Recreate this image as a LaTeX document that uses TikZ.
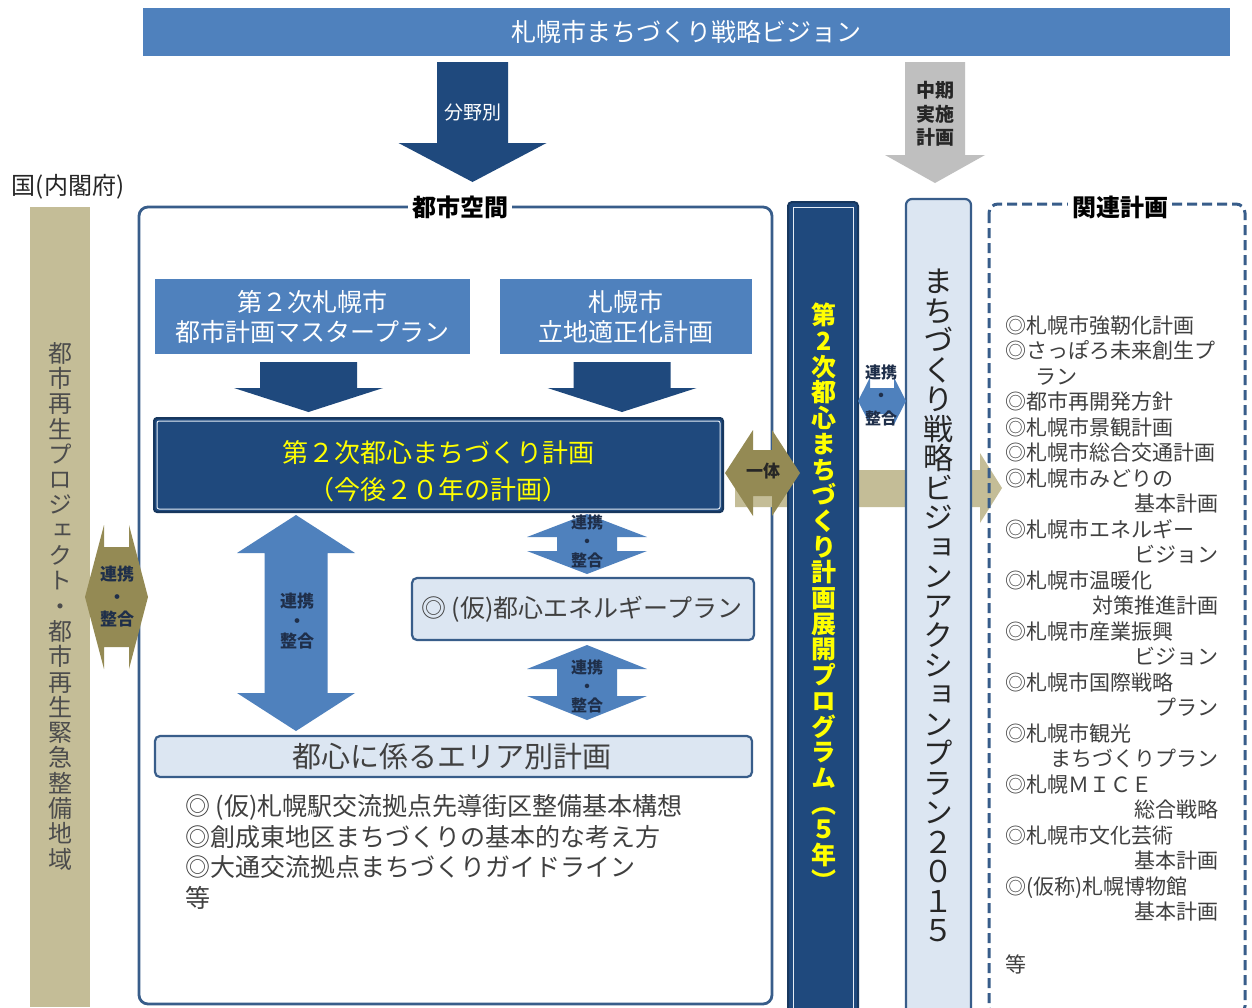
\documentclass[tikz,border=0pt]{standalone}
\usepackage{fontspec}
\setmainfont{Noto Sans CJK JP}
\newfontfamily\jpv[RawFeature=+vert]{Noto Sans CJK JP}
\definecolor{cmid}{HTML}{4F81BD}
\definecolor{cdark}{HTML}{1F497D}
\definecolor{cdarkline}{HTML}{17375E}
\definecolor{clight}{HTML}{DCE6F2}
\definecolor{cborder}{HTML}{385D8A}
\definecolor{ctan}{HTML}{C4BD97}
\definecolor{colive}{HTML}{948A54}
\definecolor{cgray}{HTML}{BFBFBF}
\definecolor{cyel}{HTML}{FFFF00}
\definecolor{ctext}{HTML}{404040}
\definecolor{clabel}{HTML}{1F2F4A}
\makeatletter
\newcommand\tate[2]{\vbox{\offinterlineskip\@tfor\tate@c:=#2\do{\setbox0\hbox to 1em{\hss\tate@c\hss}\ht0=.88em\dp0=.12em\box0\vskip\dimexpr#1-1em\relax}\unskip}}
\makeatother
\newcommand\fs[2]{\fontsize{#1}{#2}\selectfont}
\newcommand\rr{\hskip 0pt plus 1filll\relax}
% vertical double arrow: color, xc, ytop, ybot, half head, half shaft, head length
\newcommand\vdarr[7]{\fill[#1] (#2,#3) -- ({#2+#5},{#3+#7}) -- ({#2+#6},{#3+#7}) -- ({#2+#6},{#4-#7}) -- ({#2+#5},{#4-#7}) -- (#2,#4) -- ({#2-#5},{#4-#7}) -- ({#2-#6},{#4-#7}) -- ({#2-#6},{#3+#7}) -- ({#2-#5},{#3+#7}) -- cycle;}
% horizontal double arrow: color, yc, xl, xr, half head, half shaft, head length
\newcommand\hdarr[7]{\fill[#1] (#3,#2) -- ({#3+#7},{#2-#5}) -- ({#3+#7},{#2-#6}) -- ({#4-#7},{#2-#6}) -- ({#4-#7},{#2-#5}) -- (#4,#2) -- ({#4-#7},{#2+#5}) -- ({#4-#7},{#2+#6}) -- ({#3+#7},{#2+#6}) -- ({#3+#7},{#2+#5}) -- cycle;}
% down arrow: color, xc, ytop, ytip, half head, half shaft, head length
\newcommand\darr[7]{\fill[#1] ({#2-#6},#3) -- ({#2+#6},#3) -- ({#2+#6},{#4-#7}) -- ({#2+#5},{#4-#7}) -- (#2,#4) -- ({#2-#5},{#4-#7}) -- ({#2-#6},{#4-#7}) -- cycle;}
\tikzset{
  midbox/.style={fill=cmid, text=white, inner sep=0pt, outer sep=0pt, align=center},
  lightbox/.style={fill=clight, draw=cborder, line width=2.2pt, rounded corners=5pt, inner sep=0pt, outer sep=0pt},
  lab/.style={text=clabel, inner sep=0pt, align=center},
  ttl/.style={font=\bfseries\fs{24}{26}, fill=white, inner sep=4pt, text=black},
}
\begin{document}
\begin{tikzpicture}[x=1pt,y=-1pt]
\useasboundingbox (0,0) rectangle (1252,1007);
\fill[white] (0,0) rectangle (1252,1007);

% top banner
\node[midbox, minimum width=1087pt, minimum height=48pt, font=\fs{25}{28}] (banner) at (686.5,32) {札幌市まちづくり戦略ビジョン};

% arrows from banner
\darr{cdark}{472.5}{62}{182}{74}{35.5}{39}
\node[text=white, font=\fs{19}{22}, inner sep=0pt] (bunya) at (472.5,112) {分野別};
\darr{cgray}{935}{62}{183}{50}{30}{28}
\node[text=black!85, font=\bfseries\fs{19}{23.5}, align=center, inner sep=0pt] (chuki) at (935,114) {中期\\実施\\計画};

% left national bar
\node[font=\fs{24}{26}, text=black!85, inner sep=0pt] (kuni) at (68,187) {国(内閣府)};
\fill[ctan] (30,207) rectangle (90,1007);
\node[font=\jpv\fs{24}{26}, text=black!70, inner sep=0pt] (toshisaisei) at (60,606) {\tate{25.3pt}{都市再生プロジェクト・都市再生緊急整備地域}};

% main box
\draw[cborder, line width=2.8pt, rounded corners=9pt] (139,207) rectangle (772,1004);
\node[ttl] (toshikukan) at (460,207) {都市空間};

% left link arrow
\hdarr{colive}{597}{85}{148}{72}{50}{19}
\node[lab, font=\bfseries\fs{17}{22.5}] (renkeiL) at (117,597) {連携\\・\\整合};

% band to related plans (behind columns)
\fill[ctan] (735,470) -- (980,470) -- (980,453) -- (1002,488) -- (980,523) -- (980,507) -- (735,507) -- cycle;

% top boxes
\node[midbox, minimum width=315pt, minimum height=75pt, font=\fs{25}{30}, text=white] (mp) at (312.5,316.5) {第２次札幌市\\都市計画マスタープラン};
\node[midbox, minimum width=252pt, minimum height=75pt, font=\fs{25}{30}, text=white] (ritchi) at (626,316.5) {札幌市\\立地適正化計画};
\darr{cdark}{308.5}{362}{412}{74.5}{48.5}{24}
\darr{cdark}{622}{362}{412}{74.5}{48.5}{24}

% main plan box
\node[fill=cdark, draw=cdarkline, line width=2pt, rounded corners=3pt, minimum width=569pt, minimum height=94pt, inner sep=0pt, outer sep=0pt] (toshin) at (438.5,465) {};
\draw[white!85!cmid, line width=1pt, rounded corners=2pt] (157,421) rectangle (720,509);
\node[text=cyel, font=\fs{26}{37}, align=center, inner sep=0pt] (toshintxt) at (438.5,471) {第２次都心まちづくり計画\\（今後２０年の計画）};

% blue link arrows
\vdarr{cmid}{296}{515}{731}{59}{31.5}{38}
\node[lab, font=\bfseries\fs{17}{20}] (renkeiB) at (297,621) {連携\\・\\整合};
\vdarr{cmid}{587}{514}{574}{60}{30}{23}
\node[lab, font=\bfseries\fs{16}{19}] (renkeiS1) at (587,541) {連携\\・\\整合};
\vdarr{cmid}{587}{645}{720}{60}{30}{24}
\node[lab, font=\bfseries\fs{16}{19}] (renkeiS2) at (587,686) {連携\\・\\整合};

% energy plan box
\node[lightbox, minimum width=342pt, minimum height=62pt] (energy) at (583,609) {};
\node[anchor=west, font=\fs{25}{28}, text=ctext, inner sep=0pt] (energytxt) at (421,609) {◎ (仮)都心エネルギープラン};

% area plan box
\node[lightbox, minimum width=597pt, minimum height=41pt] (area) at (453.5,756.5) {};
\node[font=\fs{29}{31}, text=ctext, inner sep=0pt] (areatxt) at (452,757) {都心に係るエリア別計画};

\node[anchor=west, align=left, font=\fs{25}{30.7}, text=ctext, inner sep=0pt] (arealist) at (185,852) {◎ (仮)札幌駅交流拠点先導街区整備基本構想\\◎創成東地区まちづくりの基本的な考え方\\◎大通交流拠点まちづくりガイドライン\\等};

% dark column (program)
\fill[cdark, draw=cdarkline, line width=2pt, rounded corners=4pt] (788,202) rectangle (858,1015);
\draw[white!85!cmid, line width=1pt] (793,207) rectangle (853,1015);
\node[font=\jpv\bfseries\fs{25}{27}, text=cyel, inner sep=0pt] (program) at (824,598) {\tate{25.7pt}{第2次都心まちづくり計画展開プログラム︵５年︶}};

% light column (action plan)
\fill[clight, draw=cborder, line width=2.2pt, rounded corners=6pt] (906,199) rectangle (971,1015);
\node[font=\jpv\fs{30}{32}, text=black!85, inner sep=0pt] (action) at (938.5,606) {\tate{29.5pt}{まちづくり戦略ビジョンアクションプラン２０１５}};

% link between columns
\hdarr{cmid}{401}{858}{906}{23.5}{13}{12}
\node[lab, font=\bfseries\fs{16}{23}] (renkeiC) at (881,395) {連携\\・\\整合};

% ittai arrow
\hdarr{colive}{473}{725}{800}{43}{23}{28}
\node[font=\bfseries\fs{17}{19}, text=black!85, inner sep=0pt] (ittai) at (763,471) {一体};

% related plans box
\draw[cborder, line width=3pt, dash pattern=on 10pt off 5pt, rounded corners=9pt] (989,204) rectangle (1245,1015);
\node[ttl] (kanren) at (1120,207) {関連計画};
\node[anchor=west, text width=213pt, align=left, font=\fs{21}{25.5}, text=ctext, inner sep=0pt] (kanrenlist) at (1005,645) {%
◎札幌市強靭化計画\\
◎さっぽろ未来創生プ\\
\hspace*{30pt}ラン\\
◎都市再開発方針\\
◎札幌市景観計画\\
◎札幌市総合交通計画\\
◎札幌市みどりの\\
\rr 基本計画\\
◎札幌市エネルギー\\
\rr ビジョン\\
◎札幌市温暖化\\
\rr 対策推進計画\\
◎札幌市産業振興\\
\rr ビジョン\\
◎札幌市国際戦略\\
\rr プラン\\
◎札幌市観光\\
\rr まちづくりプラン\\
◎札幌ＭＩＣＥ\\
\rr 総合戦略\\
◎札幌市文化芸術\\
\rr 基本計画\\
◎(仮称)札幌博物館\\
\rr 基本計画\\[27.5pt]
等};
\end{tikzpicture}
\end{document}
